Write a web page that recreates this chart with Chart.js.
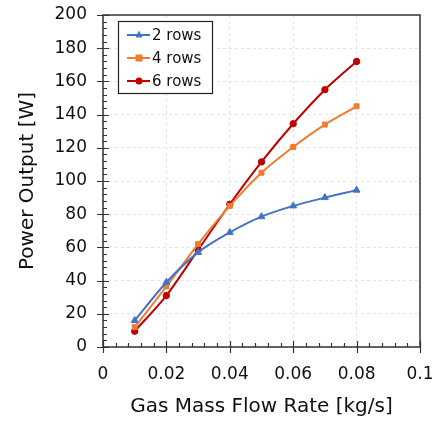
<!DOCTYPE html>
<html>
<head>
<meta charset="utf-8">
<script src="https://cdn.jsdelivr.net/npm/chart.js@4"></script>
<style>
  html, body { margin: 0; padding: 0; background: #fff; }
  #wrap { width: 438px; height: 423px; }
</style>
</head>
<body>
<div id="wrap"><canvas id="chart" width="438" height="423"></canvas></div>
<script>
// flow rates [kg/s]
const flowRates = [0.01, 0.02, 0.03, 0.04, 0.05, 0.06, 0.07, 0.08];
// power output [W]
const rows2 = [16, 39, 57, 69, 78.5, 85, 90, 94.5];
const rows4 = [12, 36.5, 62, 85, 105, 120.5, 134, 145];
const rows6 = [9.5, 31, 58.5, 86, 111.5, 134.5, 155, 172];

const seriesNames = ['2 rows', '4 rows', '6 rows'];
const colors = ['#4472C4', '#ED7D31', '#C00000'];
const markers = ['triangle', 'rect', 'circle'];
const markerSizes = [4, 3.5, 3.2];

const FONT = 'DejaVu Sans';
const AXIS = '#333';

function toPoints(ys) {
    return flowRates.map((x, i) => ({ x: x, y: ys[i] }));
}

function makeDataset(i, ys) {
    return {
        label: seriesNames[i],
        data: toPoints(ys),
        borderColor: colors[i],
        backgroundColor: colors[i],
        borderWidth: 2,
        pointStyle: markers[i],
        pointRadius: markerSizes[i],
        pointBorderWidth: 1,
        tension: 0.25
    };
}

// no extra room for overhanging tick labels; layout padding sets the plot box
function noLabelPadding(scale) {
    scale.paddingLeft = 0;
    scale.paddingRight = 0;
    scale.paddingTop = 0;
    scale.paddingBottom = 0;
}

// frame, crossing major ticks and inner minor ticks
const frameTicks = {
    id: 'frameTicks',
    afterDraw(chart) {
        const { ctx, chartArea: a, scales } = chart;
        const xs = scales.x, ys = scales.y;
        ctx.save();
        ctx.strokeStyle = AXIS;
        ctx.lineWidth = 1.5;
        ctx.strokeRect(a.left, a.top, a.right - a.left, a.bottom - a.top);
        ctx.lineWidth = 1.2;
        ctx.beginPath();
        for (let v = 0; v <= 200.001; v += 4) {
            const py = Math.round(ys.getPixelForValue(v)) + 0.5;
            const major = Math.abs(v % 20) < 0.001;
            ctx.moveTo(a.left - (major ? 6 : 0), py);
            ctx.lineTo(a.left + (major ? 6 : 4), py);
        }
        for (let k = 0; k <= 25; k++) {
            const v = k * 0.004;
            const px = Math.round(xs.getPixelForValue(v)) + 0.5;
            const major = k % 5 === 0;
            ctx.moveTo(px, a.bottom + (major ? 6 : 0));
            ctx.lineTo(px, a.bottom - (major ? 6 : 4));
        }
        ctx.stroke();
        ctx.restore();
    }
};

// boxed legend inside the plot area
const boxLegend = {
    id: 'boxLegend',
    afterDraw(chart) {
        const ctx = chart.ctx;
        const x0 = 118, y0 = 21, w = 94, h = 72, rowH = 23;
        ctx.save();
        ctx.fillStyle = '#fff';
        ctx.fillRect(x0, y0, w, h);
        ctx.strokeStyle = '#222';
        ctx.lineWidth = 1.2;
        ctx.strokeRect(x0 + 0.5, y0 + 0.5, w, h);
        chart.data.datasets.forEach((ds, i) => {
            const cy = y0 + 14 + i * rowH;
            ctx.strokeStyle = ds.borderColor;
            ctx.lineWidth = 2;
            ctx.beginPath();
            ctx.moveTo(x0 + 9, cy);
            ctx.lineTo(x0 + 32, cy);
            ctx.stroke();
            ctx.fillStyle = ds.backgroundColor;
            const mx = x0 + 21, r = 3.5;
            ctx.beginPath();
            if (ds.pointStyle === 'triangle') {
                ctx.moveTo(mx, cy - r - 1);
                ctx.lineTo(mx + r, cy + r - 1);
                ctx.lineTo(mx - r, cy + r - 1);
                ctx.closePath();
            } else if (ds.pointStyle === 'rect') {
                ctx.rect(mx - r, cy - r, 2 * r, 2 * r);
            } else {
                ctx.arc(mx, cy, r, 0, Math.PI * 2);
            }
            ctx.fill();
            ctx.fillStyle = '#111';
            ctx.font = '15px "' + FONT + '"';
            ctx.textBaseline = 'middle';
            ctx.fillText(ds.label, x0 + 34, cy + 1);
        });
        ctx.restore();
    }
};

const chart = new Chart(document.getElementById('chart'), {
    type: 'line',
    data: {
        datasets: [
            makeDataset(0, rows2),
            makeDataset(1, rows4),
            makeDataset(2, rows6)
        ]
    },
    options: {
        responsive: false,
        animation: false,
        layout: { padding: { top: 15, right: 18, left: 0, bottom: 0 } },
        plugins: {
            legend: { display: false },
            tooltip: { enabled: false }
        },
        scales: {
            x: {
                type: 'linear',
                min: 0,
                max: 0.1,
                afterFit(scale) { scale.height = 76; noLabelPadding(scale); },
                ticks: {
                    stepSize: 0.02,
                    padding: 17,
                    color: '#111',
                    font: { family: FONT, size: 17 },
                    callback: v => (Math.round(v * 100) / 100).toString()
                },
                grid: {
                    color: '#e4e4e4',
                    drawTicks: false,
                    tickLength: 0
                },
                border: { display: false, dash: [3, 3] },
                title: {
                    display: true,
                    text: 'Gas Mass Flow Rate [kg/s]',
                    color: '#111',
                    font: { family: FONT, size: 20 },
                    padding: { top: 0, bottom: 4 }
                }
            },
            y: {
                min: 0,
                max: 200,
                afterFit(scale) { scale.width = 103; noLabelPadding(scale); },
                ticks: {
                    stepSize: 20,
                    padding: 16,
                    color: '#111',
                    font: { family: FONT, size: 17 }
                },
                grid: {
                    color: '#e4e4e4',
                    drawTicks: false,
                    tickLength: 0
                },
                border: { display: false, dash: [3, 3] },
                title: {
                    display: true,
                    text: 'Power Output [W]',
                    color: '#111',
                    font: { family: FONT, size: 20 },
                    padding: { top: 16, bottom: 0 }
                }
            }
        }
    },
    plugins: [frameTicks, boxLegend]
});
</script>
</body>
</html>
